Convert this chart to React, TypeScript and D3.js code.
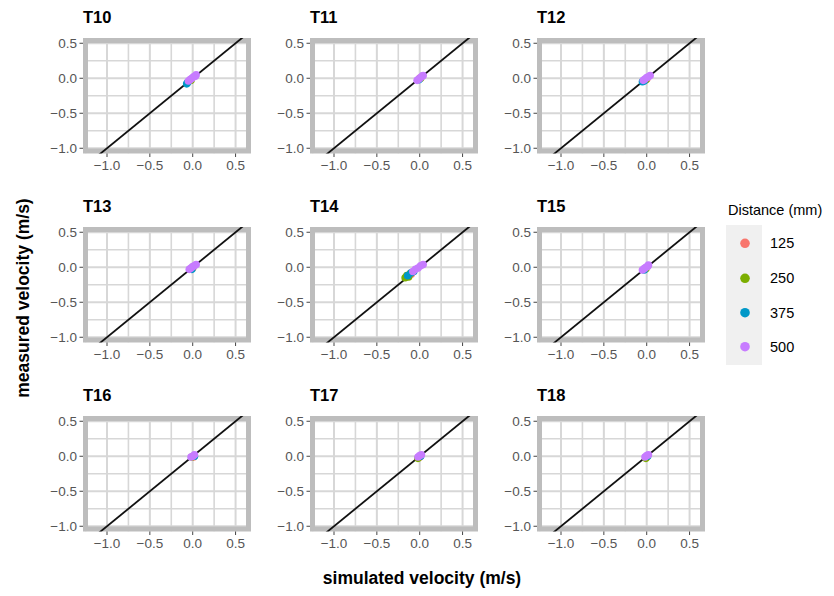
import React from "react";
import * as d3 from "d3";

const panelNames = ["T10", "T11", "T12", "T13", "T14", "T15", "T16", "T17", "T18"];
const distances = [125, 250, 375, 500];
const distanceColors = ["#F8766D", "#7CAE00", "#0098C8", "#C77CFF"];
const xTicks = [-1.0, -0.5, 0.0, 0.5];
const yTicks = [-1.0, -0.5, 0.0, 0.5];
const xMinor = [-1.25, -0.75, -0.25, 0.25];
const yMinor = [-0.75, -0.25, 0.25];

// [distance (mm), simulated velocity, measured velocity]
const ptsT10 = [[125, -0.03, -0.03], [250, -0.02, -0.03], [375, -0.07, -0.08], [375, -0.06, -0.06], [500, -0.05, -0.04], [500, -0.03, -0.02], [500, -0.01, 0.0], [500, 0.01, 0.02], [500, 0.03, 0.03], [500, 0.04, 0.05]];
const ptsT11 = [[125, 0.0, 0.0], [250, 0.01, 0.0], [375, -0.01, -0.02], [500, -0.03, -0.03], [500, -0.01, -0.01], [500, 0.01, 0.01], [500, 0.03, 0.03], [500, 0.04, 0.04]];
const ptsT12 = [[125, 0.0, -0.01], [250, -0.01, -0.02], [375, -0.05, -0.05], [375, -0.03, -0.04], [500, -0.04, -0.03], [500, -0.02, -0.01], [500, 0.0, 0.01], [500, 0.02, 0.02], [500, 0.04, 0.04]];
const ptsT13 = [[125, 0.0, -0.01], [250, 0.0, 0.0], [375, -0.01, -0.03], [500, -0.04, -0.03], [500, -0.02, -0.01], [500, 0.0, 0.01], [500, 0.02, 0.02], [500, 0.04, 0.04]];
const ptsT14 = [[125, -0.1, -0.1], [250, -0.17, -0.15], [250, -0.15, -0.12], [250, -0.13, -0.14], [250, -0.11, -0.09], [375, -0.14, -0.12], [375, -0.1, -0.08], [375, -0.07, -0.06], [500, -0.08, -0.06], [500, -0.05, -0.03], [500, -0.02, -0.01], [500, 0.01, 0.02], [500, 0.04, 0.04]];
const ptsT15 = [[125, -0.02, -0.02], [250, -0.01, -0.02], [375, -0.03, -0.04], [500, -0.05, -0.04], [500, -0.03, -0.02], [500, -0.01, 0.0], [500, 0.01, 0.01], [500, 0.02, 0.03]];
const ptsT16 = [[125, 0.01, -0.01], [250, -0.01, -0.01], [375, 0.02, 0.0], [500, -0.02, -0.01], [500, 0.0, 0.0], [500, 0.02, 0.02]];
const ptsT17 = [[125, 0.0, -0.01], [250, -0.02, -0.03], [375, 0.01, 0.0], [500, -0.02, -0.01], [500, 0.0, 0.01], [500, 0.02, 0.02]];
const ptsT18 = [[125, 0.0, -0.01], [250, -0.01, -0.03], [375, 0.01, 0.0], [500, -0.02, -0.01], [500, 0.0, 0.01], [500, 0.02, 0.02]];
const panelPoints = [ptsT10, ptsT11, ptsT12, ptsT13, ptsT14, ptsT15, ptsT16, ptsT17, ptsT18];

const W = 834;
const H = 596;
const colX = [83, 310, 537];
const rowY = [38, 227, 416];
const PW = 168;
const PH = 115.5;
const FONT = "Liberation Sans, Arial, Helvetica, sans-serif";

const color = d3.scaleOrdinal<number, string>().domain(distances).range(distanceColors);

function Panel({ name, pts, x0, y0, idx }: any) {
  const x = d3.scaleLinear().domain([-1.28, 0.68]).range([x0, x0 + PW]);
  const y = d3.scaleLinear().domain([-1.075, 0.575]).range([y0 + PH, y0]);
  const line = d3.line<number>().x((v) => x(v)).y((v) => y(v));
  const clipId = `clip-${idx}`;
  const grid = "#d7d7d7";
  return (
    <g>
      <defs>
        <clipPath id={clipId}>
          <rect x={x0} y={y0} width={PW} height={PH} />
        </clipPath>
      </defs>
      <rect x={x0} y={y0} width={PW} height={PH} fill="#fff" />
      <g clipPath={`url(#${clipId})`}>
        {xMinor.map((v) => (
          <line key={"xm" + v} x1={x(v)} x2={x(v)} y1={y0} y2={y0 + PH} stroke={grid} strokeWidth={1.6} />
        ))}
        {xTicks.map((v) => (
          <line key={"xM" + v} x1={x(v)} x2={x(v)} y1={y0} y2={y0 + PH} stroke={grid} strokeWidth={2} />
        ))}
        {yMinor.map((v) => (
          <line key={"ym" + v} y1={y(v)} y2={y(v)} x1={x0} x2={x0 + PW} stroke={grid} strokeWidth={1.6} />
        ))}
        {yTicks.map((v) => (
          <line key={"yM" + v} y1={y(v)} y2={y(v)} x1={x0} x2={x0 + PW} stroke={grid} strokeWidth={2} />
        ))}
      </g>
      <rect x={x0 + 2.5} y={y0 + 2.5} width={PW - 5} height={PH - 5} fill="none" stroke="#bdbdbd" strokeWidth={5} />
      <g clipPath={`url(#${clipId})`}>
        <path d={line([-1.3, 0.7]) || ""} stroke="#111" strokeWidth={1.8} fill="none" />
        {pts.map((p: number[], i: number) => (
          <circle key={i} cx={x(p[1])} cy={y(p[2])} r={3.8} fill={color(p[0])} />
        ))}
      </g>
      {xTicks.map((v) => (
        <g key={"xt" + v}>
          <line x1={x(v)} x2={x(v)} y1={y0 + PH} y2={y0 + PH + 3.5} stroke="#444" strokeWidth={1} />
          <text x={x(v)} y={y0 + PH + 16.5} textAnchor="middle" fontSize={13.5} fill="#555" fontFamily={FONT}>
            {d3.format(".1f")(v).replace("-", "\u2212")}
          </text>
        </g>
      ))}
      {yTicks.map((v) => (
        <g key={"yt" + v}>
          <line x1={x0 - 3.5} x2={x0} y1={y(v)} y2={y(v)} stroke="#444" strokeWidth={1} />
          <text x={x0 - 6} y={y(v) + 4.8} textAnchor="end" fontSize={13.5} fill="#555" fontFamily={FONT}>
            {d3.format(".1f")(v).replace("-", "\u2212")}
          </text>
        </g>
      ))}
      <text x={x0} y={y0 - 15} fontSize={16.5} fontWeight="bold" fill="#000" fontFamily={FONT}>
        {name}
      </text>
    </g>
  );
}

export default function App() {
  const legendY = [243.3, 278.3, 312.7, 346.7];
  return (
    <svg width={W} height={H} style={{ position: "absolute", left: 0, top: 0, background: "#fff" }}>
      <rect width={W} height={H} fill="#fff" />
      {panelNames.map((name, i) => (
        <Panel key={name} name={name} pts={panelPoints[i]} x0={colX[i % 3]} y0={rowY[Math.floor(i / 3)]} idx={i} />
      ))}
      <text
        transform="translate(29,298) rotate(-90)"
        textAnchor="middle"
        fontSize={17.5}
        fontWeight="bold"
        fontFamily={FONT}
        fill="#000"
      >
        measured velocity (m/s)
      </text>
      <text x={422} y={584} textAnchor="middle" fontSize={17.5} fontWeight="bold" fontFamily={FONT} fill="#000">
        simulated velocity (m/s)
      </text>
      <text x={728} y={215} fontSize={14.5} fontFamily={FONT} fill="#000">
        Distance (mm)
      </text>
      <rect x={726} y={225} width={36} height={140} fill="#f0f0f0" />
      {distances.map((d, i) => (
        <g key={d}>
          <circle cx={745} cy={legendY[i]} r={4.8} fill={color(d)} />
          <text x={770} y={legendY[i] + 5} fontSize={14.5} fontFamily={FONT} fill="#000">
            {d}
          </text>
        </g>
      ))}
    </svg>
  );
}
